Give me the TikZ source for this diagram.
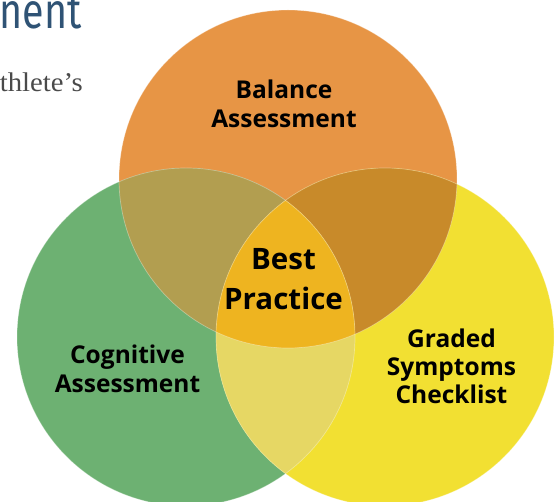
\documentclass[tikz,border=0pt]{standalone}
\usepackage{fontspec}
\newfontfamily\labfont{Open Sans}
\newfontfamily\titfont{Fira Sans}
\newfontfamily\subfont{Liberation Serif}
\definecolor{cOr}{HTML}{E79545}
\definecolor{cGr}{HTML}{6DB172}
\definecolor{cYe}{HTML}{F2E032}
\definecolor{cOG}{HTML}{B29E50}
\definecolor{cOY}{HTML}{C88A2A}
\definecolor{cGY}{HTML}{E6D764}
\definecolor{cAll}{HTML}{EEB420}
\definecolor{titc}{HTML}{2F5375}
\definecolor{subc}{HTML}{4A4A4A}
\newlength\ttlw
\settowidth\ttlw{\titfont\fontsize{50}{50}\selectfont nent}
\pgfmathsetmacro\tsx{82pt/\ttlw}
\newlength\subw
\settowidth\subw{\subfont\fontsize{27}{27}\selectfont thlete’s}
\pgfmathsetmacro\ssx{83pt/\subw}
\begin{document}
\begin{tikzpicture}[x=1pt,y=-1pt,
  lab/.style={font=\labfont\bfseries\fontsize{24.5}{29}\selectfont, align=center, inner sep=0pt, text=black},
  edge/.style={draw=white, draw opacity=0.35, line width=0.7pt}]
\useasboundingbox (0,0) rectangle (558,502);
\def\R{169}
\coordinate (cO) at (288,179);
\coordinate (cG) at (186,337);
\coordinate (cY) at (385,337);
% single circles
\fill[cOr] (cO) circle[radius=\R];
\fill[cGr] (cG) circle[radius=\R];
\fill[cYe] (cY) circle[radius=\R];
% pairwise overlaps
\begin{scope}
  \clip (cO) circle[radius=\R];
  \fill[cOG] (cG) circle[radius=\R];
  \fill[cOY] (cY) circle[radius=\R];
\end{scope}
\begin{scope}
  \clip (cG) circle[radius=\R];
  \fill[cGY] (cY) circle[radius=\R];
\end{scope}
% triple overlap
\begin{scope}
  \clip (cO) circle[radius=\R];
  \clip (cG) circle[radius=\R];
  \fill[cAll] (cY) circle[radius=\R];
\end{scope}
% faint boundaries
\draw[edge] (cO) circle[radius=\R];
\draw[edge] (cG) circle[radius=\R];
\draw[edge] (cY) circle[radius=\R];
% labels
\node[lab] (bal) at (284,103.5) {Balance\\Assessment};
\node[lab, font=\labfont\bfseries\fontsize{29.5}{40}\selectfont] (best) at (283.5,279) {Best\\Practice};
\node[lab] (cog) at (127.5,368.5) {Cognitive\\Assessment};
\node[lab, font=\labfont\bfseries\fontsize{24.5}{28}\selectfont] (gsc) at (451.5,366.5) {Graded\\Symptoms\\Checklist};
% top-left cut-off texts
\node[anchor=base east, inner sep=0pt, text=titc] (ttl) at (82,29) {\scalebox{\tsx}[1]{\titfont\fontsize{50}{50}\selectfont nent}};
\node[anchor=base east, inner sep=0pt, text=subc] (ath) at (83,92) {\scalebox{\ssx}[1]{\subfont\fontsize{27}{27}\selectfont thlete’s}};
\end{tikzpicture}
\end{document}
